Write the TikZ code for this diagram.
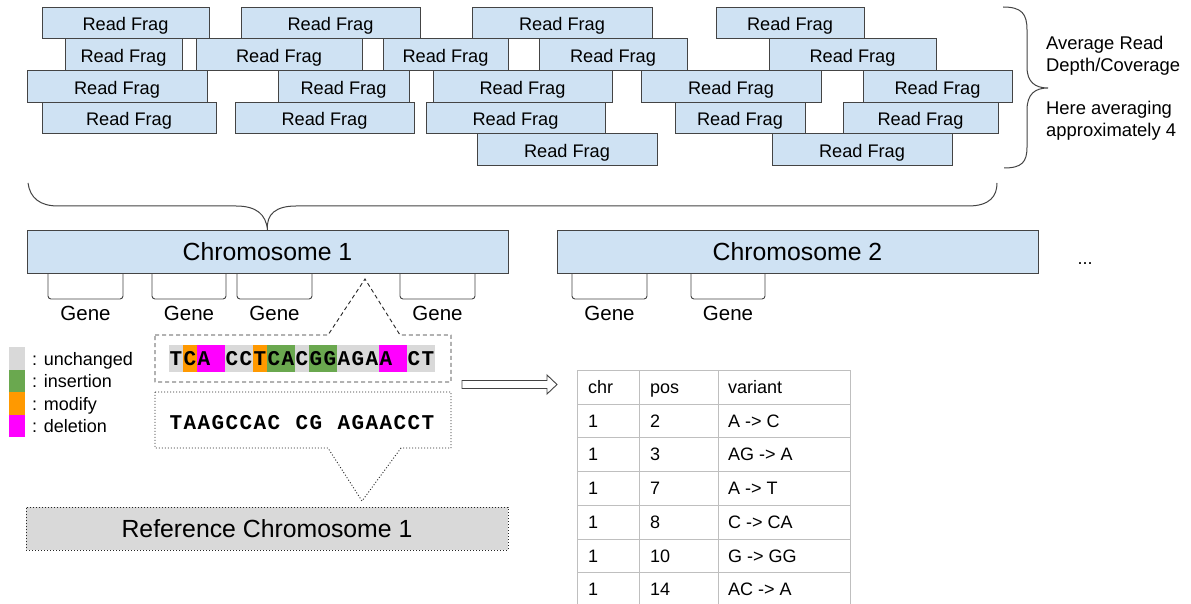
\documentclass[tikz,border=0pt]{standalone}
\usepackage{fontspec}
\setmainfont{Liberation Sans}
\newfontfamily\seqfont{Liberation Mono}
\definecolor{fragfill}{HTML}{CFE2F3}
\definecolor{fragline}{HTML}{444444}
\definecolor{sg}{HTML}{D9D9D9}
\definecolor{sn}{HTML}{6AA84F}
\definecolor{so}{HTML}{FF9900}
\definecolor{sm}{HTML}{FF00FF}
\definecolor{tabline}{HTML}{BFBFBF}
\begin{document}
\begin{tikzpicture}[x=1pt,y=-1pt,
  frag/.style={draw=fragline, fill=fragfill, line width=0.9pt, inner sep=0pt, outer sep=0pt,
    anchor=north west, minimum height=31.7pt, text height=16pt, text depth=0pt,
    font=\fontsize{18.2}{20}\selectfont},
  chrom/.style={draw=fragline, fill=fragfill, line width=0.9pt, inner sep=0pt, outer sep=0pt,
    anchor=north west, minimum height=43pt, font=\fontsize{24.8}{26}\selectfont},
  brace/.style={draw=fragline, line width=1pt},
  gene/.style={draw=fragline, line width=0.9pt, rounded corners=3pt},
  genelabel/.style={font=\fontsize{20.5}{22}\selectfont, inner sep=0pt},
  sidetext/.style={font=\fontsize{18.4}{22}\selectfont, align=left, anchor=west, inner sep=0pt},
  seqch/.style={font=\seqfont\bfseries\fontsize{21}{21}\selectfont, inner sep=0pt},
  legtext/.style={font=\fontsize{18}{20}\selectfont, anchor=west, inner sep=0pt, text height=14pt, text depth=0pt},
  tabtext/.style={font=\fontsize{18}{20}\selectfont, anchor=west, inner sep=0pt, text height=13pt, text depth=0pt},
  tab/.style={draw=tabline, line width=0.9pt},
  callout/.style={draw=black!85, line width=0.9pt},
]
\useasboundingbox (0,0) rectangle (1191,604);
\fill[white] (0,0) rectangle (1191,604);

% read fragments
\foreach \a/\b [count=\i] in {42/209,241/420,472/652,716/864}
  \node[frag, minimum width={(\b-\a)*1pt}] (fa\i) at (\a,7) {Read Frag};
\foreach \a/\b [count=\i] in {65/182,196/362,383/508,539/687,769/936}
  \node[frag, minimum width={(\b-\a)*1pt}] (fb\i) at (\a,38.7) {Read Frag};
\foreach \a/\b [count=\i] in {27/207,278/409,433/612,641/821,863/1012}
  \node[frag, minimum width={(\b-\a)*1pt}] (fc\i) at (\a,70.4) {Read Frag};
\foreach \a/\b [count=\i] in {42/216,235/414,426/605,675/805,843/998}
  \node[frag, minimum width={(\b-\a)*1pt}] (fd\i) at (\a,102.1) {Read Frag};
\foreach \a/\b [count=\i] in {477/657,772/952}
  \node[frag, minimum width={(\b-\a)*1pt}] (fe\i) at (\a,133.8) {Read Frag};

% right brace
\draw[brace] (1003,7) .. controls (1022,7) and (1027,14) .. (1027,30) -- (1027,67)
  .. controls (1027,82) and (1035,88) .. (1048,88)
  .. controls (1035,88) and (1027,94) .. (1027,110) -- (1027,147)
  .. controls (1027,162) and (1022,168) .. (1004,168);
\node[sidetext] (avg) at (1046,56) {Average Read\\Depth/Coverage};
\node[sidetext] (here) at (1046,121) {Here averaging\\approximately 4};

% chromosomes
\node[chrom, minimum width=481pt] (chr1) at (27,230) {Chromosome 1};
\node[chrom, minimum width=481pt] (chr2) at (557,230) {Chromosome 2};
\node[font=\fontsize{18}{20}\selectfont, inner sep=0pt] (dots) at (1085,264) {...};

% bottom brace
\draw[brace] (28,183) .. controls (30,198) and (40,206) .. (58,206) -- (236,206)
  .. controls (256,206) and (266,214) .. (chr1.north)
  .. controls (266,214) and (276,206) .. (296,206) -- (968,206)
  .. controls (990,206) and (997,196) .. (997,183);

% genes
\foreach \a/\b [count=\i] in {48/123,152/226,237/312,400/475}{
  \draw[gene] (\a,273) -- (\a,299) -- (\b,299) -- (\b,273);
  \node[genelabel] (ga\i) at ({(\a+\b)/2},313) {Gene};
}
\foreach \a/\b [count=\i] in {572/647,691/765}{
  \draw[gene] (\a,273) -- (\a,299) -- (\b,299) -- (\b,273);
  \node[genelabel] (gb\i) at ({(\a+\b)/2},313) {Gene};
}

% upper dashed callout
\draw[callout, dash pattern=on 4pt off 3pt] (155,335) -- (328,335) -- (365,279) -- (400,335) -- (451,335) -- (451,382) -- (155,382) -- cycle;
\foreach \col [count=\i from 0] in {sg,so,sm,sm,sg,sg,so,sn,sn,sg,sn,sn,sg,sg,sg,sm,sm,sg,sg}
  \fill[\col] ({169+14*\i},345) rectangle ++(14,27);
\foreach \i/\ch in {0/T,1/C,2/A,4/C,5/C,6/T,7/C,8/A,9/C,10/G,11/G,12/A,13/G,14/A,15/A,17/C,18/T}
  \node[seqch] (s\i) at ({176+14*\i},358.5) {\ch};

% lower dotted callout
\draw[callout, dash pattern=on 1pt off 2pt] (155,392) -- (451,392) -- (451,448) -- (401,448) -- (362,501) -- (328,448) -- (155,448) -- cycle;
\foreach \i/\ch in {0/T,1/A,2/A,3/G,4/C,5/C,6/A,7/C,9/C,10/G,12/A,13/G,14/A,15/A,16/C,17/C,18/T}
  \node[seqch] (r\i) at ({176+14*\i},423) {\ch};

% reference chromosome
\node[draw=black!85, dash pattern=on 1pt off 2pt, line width=0.9pt, fill=sg, anchor=north west,
  minimum width=482pt, minimum height=43pt, inner sep=0pt, outer sep=0pt,
  font=\fontsize{24.8}{26}\selectfont] (ref) at (26,507) {Reference Chromosome 1};

% legend
\foreach \col/\txt [count=\i from 0] in {sg/unchanged,sn/insertion,so/modify,sm/deletion}{
  \fill[\col] (9,{347+22.5*\i}) rectangle ++(16,22.5);
  \node[legtext] (leg\i) at (32,{358+22.5*\i}) {: \txt};
}

% hollow arrow
\draw[fragline, line width=0.9pt, fill=white] (462,380.5) -- (547,380.5) -- (547,375) -- (557,384.5) -- (547,394) -- (547,388.5) -- (462,388.5) -- cycle;

% table
\foreach \y in {370,404,437.5,471,505,539,572.5}
  \draw[tab] (577,\y) -- (850,\y);
\foreach \x in {577,639,718,850}
  \draw[tab] (\x,370) -- (\x,606);
\node[tabtext] (h1) at (588,387) {chr};
\node[tabtext] (h2) at (650,387) {pos};
\node[tabtext] (h3) at (728,387) {variant};
\foreach \p/\v [count=\i] in {2/A -> C,3/AG -> A,7/A -> T,8/C -> CA,10/G -> GG,14/AC -> A}{
  \node[tabtext] (c\i) at (588,{387+33.7*\i}) {1};
  \node[tabtext] (p\i) at (650,{387+33.7*\i}) {\p};
  \node[tabtext] (v\i) at (728,{387+33.7*\i}) {\v};
}
\end{tikzpicture}
\end{document}
